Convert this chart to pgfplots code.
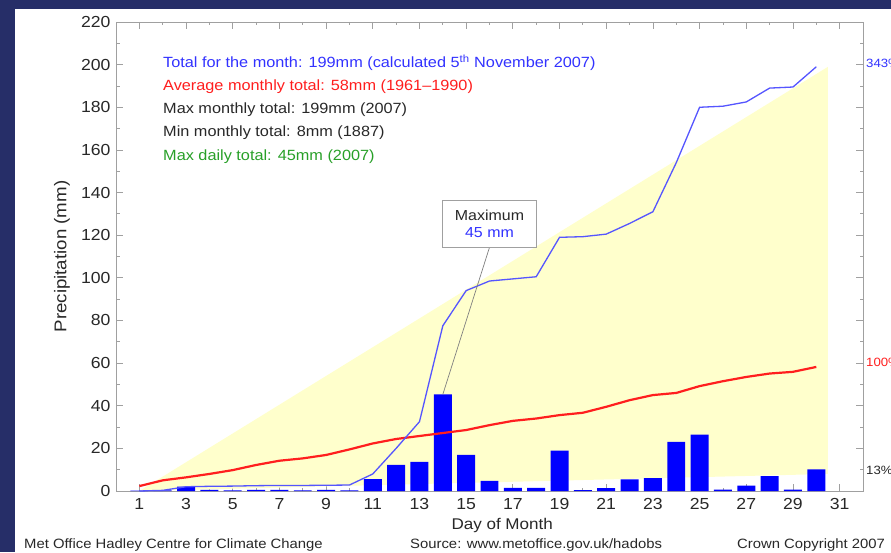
\documentclass[border=0pt]{standalone}
\usepackage{pgfplots}
\pgfplotsset{compat=1.18}
\usepackage{fontspec}
\setmainfont{Liberation Sans}[FakeStretch=1.1]
\definecolor{bgnavy}{RGB}{38,46,104}
\definecolor{fillyellow}{RGB}{255,255,204}
\definecolor{lineblue}{RGB}{85,85,255}
\definecolor{barblue}{RGB}{0,0,255}
\definecolor{txtblue}{RGB}{50,50,255}
\definecolor{txtred}{RGB}{255,30,30}
\definecolor{txtgreen}{RGB}{40,160,40}
\definecolor{txtdark}{RGB}{40,40,40}
\definecolor{axgray}{RGB}{160,160,160}

\begin{document}
\begin{tikzpicture}
\useasboundingbox (0,0) rectangle (891pt,552pt);
\clip (0,0) rectangle (891pt,552pt);
\fill[bgnavy] (0,0) rectangle (891pt,552pt);
\fill[white] (15pt,0) rectangle (891pt,543pt);
\begin{axis}[
  at={(116pt,61pt)}, anchor=south west,
  scale only axis, width=747pt, height=469pt,
  xmin=0, xmax=32, ymin=0, ymax=220,
  xtick={1,3,...,31}, minor xtick={2,4,...,30},
  ytick={0,20,...,220}, minor ytick={10,30,...,210},
  tick align=inside,
  major tick length=7pt, minor tick length=3.5pt,
  axis line style={axgray, line width=0.8pt},
  every tick/.style={axgray, line width=0.8pt},
  /pgf/number format/assume math mode=true,
  tick label style={font=\fontsize{16}{16}\selectfont, text=txtdark},
  xticklabel style={yshift=-4pt},
  yticklabel style={xshift=-2pt},
  xlabel={Day of Month},
  ylabel={Precipitation (mm)},
  every axis x label/.style={at={(axis description cs:0.517,-0.0725)}, anchor=center, font=\fontsize{15.5}{15.5}\selectfont, text=txtdark},
  every axis y label/.style={at={(axis description cs:-0.0723,0.5)}, rotate=90, anchor=center, font=\fontsize{17}{17}\selectfont, text=txtdark},
  clip=false,
]
% envelope between min and max monthly totals
\addplot[fill=fillyellow, draw=none] coordinates {(1,0) (30.5,199) (30.5,8) (1,0)} -- cycle;
% daily totals
\addplot[ybar, bar width=0.77, fill=barblue, draw=none] coordinates {
(1,0.2) (2,0.3) (3,2) (4,0.5) (5,0.3) (6,0.5) (7,0.5) (8,0.3) (9,0.5) (10,0.3)
(11,5.6) (12,12.2) (13,13.7) (14,45.3) (15,16.9) (16,4.8) (17,1.5) (18,1.5) (19,18.9) (20,0.4)
(21,1.4) (22,5.5) (23,6) (24,23) (25,26.5) (26,0.6) (27,2.5) (28,7) (29,0.6) (30,10.2)};
% average cumulative
\addplot[txtred, line width=2.2pt] coordinates {
(1,2.3) (2,5) (3,6.4) (4,8) (5,9.8) (6,12.2) (7,14.2) (8,15.3) (9,16.9) (10,19.5)
(11,22.3) (12,24.4) (13,25.8) (14,27.2) (15,28.6) (16,30.9) (17,32.9) (18,34) (19,35.6) (20,36.7)
(21,39.5) (22,42.6) (23,45) (24,46) (25,49.2) (26,51.5) (27,53.5) (28,55.1) (29,55.9) (30,58.2)};
% cumulative this month
\addplot[lineblue, line width=1.3pt] coordinates {
(1,0) (2,0.3) (3,2) (4,2.2) (5,2.3) (6,2.5) (7,2.6) (8,2.6) (9,2.7) (10,2.8)
(11,8) (12,20) (13,32.5) (14,77.5) (15,94) (16,98.5) (17,99.5) (18,100.5) (19,119) (20,119.3)
(21,120.5) (22,125.5) (23,131) (24,154) (25,180) (26,180.5) (27,182.5) (28,189) (29,189.5) (30,199)};
% annotation
\draw[gray, line width=0.7pt] (axis cs:16,114.3) -- (axis cs:14,45.3);
\node[draw=axgray, fill=white, line width=0.8pt, minimum width=94pt, minimum height=47pt, align=center, inner sep=2pt,
      font=\fontsize{14.5}{17.5}\selectfont, text=txtdark] at (axis cs:16.0,125.3) {Maximum\\\textcolor{txtblue}{45 mm}};
\end{axis}
% legend text
\begin{scope}[every node/.style={anchor=west, inner sep=0pt, font=\fontsize{14.8}{14.8}\selectfont}]
\node[text=txtblue] at (163pt,489pt) {Total for the month: 199mm (calculated 5\textsuperscript{th} November 2007)};
\node[text=txtred] at (163pt,465pt) {Average monthly total: 58mm (1961--1990)};
\node[text=txtdark] at (163pt,442pt) {Max monthly total: 199mm (2007)};
\node[text=txtdark] at (163pt,419pt) {Min monthly total: 8mm (1887)};
\node[text=txtgreen] at (163pt,395pt) {Max daily total: 45mm (2007)};
\end{scope}
% right-hand percentages
\begin{scope}[every node/.style={anchor=west, inner sep=0pt, font=\fontsize{12}{12}\selectfont}]
\node[text=txtblue] at (866pt,489pt) {343\%};
\node[text=txtred] at (866pt,190pt) {100\%};
\node[text=txtdark] at (866pt,82pt) {13\%};
\end{scope}
% footer
\begin{scope}[every node/.style={anchor=west, inner sep=0pt, font=\fontsize{13.5}{13.5}\selectfont, text=txtdark}]
\node at (24pt,7pt) {Met Office Hadley Centre for Climate Change};
\node at (410pt,7pt) {Source: www.metoffice.gov.uk/hadobs};
\node at (737pt,7pt) {Crown Copyright 2007};
\end{scope}
\end{tikzpicture}
\end{document}
